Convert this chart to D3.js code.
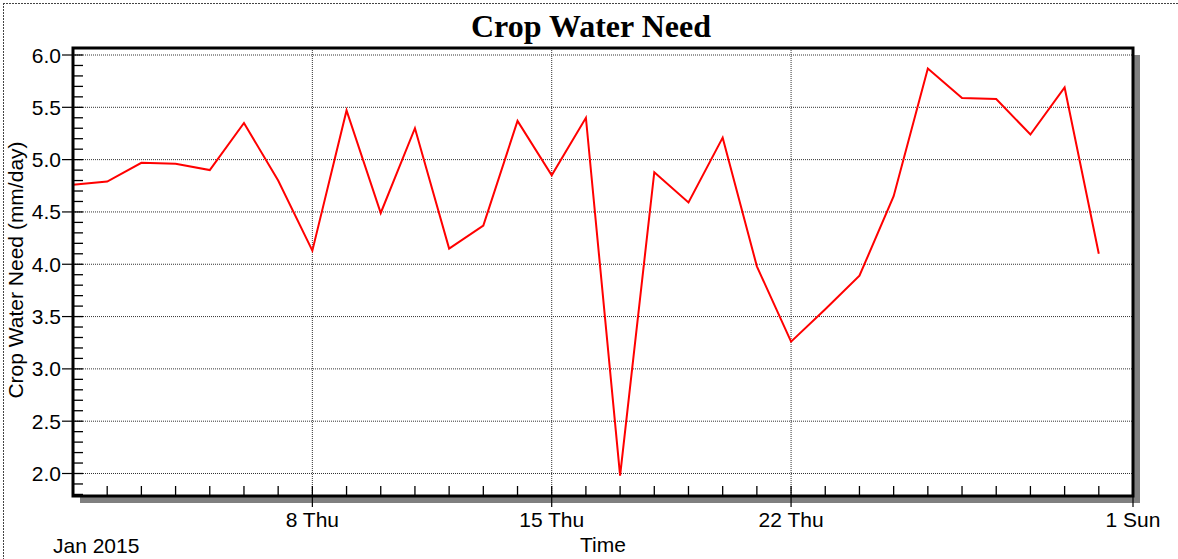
<!DOCTYPE html>
<html><head><meta charset="utf-8">
<script src="https://cdn.jsdelivr.net/npm/d3@7"></script>
<style>body{margin:0;background:#fff}svg{display:block}</style>
</head><body>
<svg id="c" width="1178" height="559"></svg>
<script>
const title = "Crop Water Need";
const yTitle = "Crop Water Need (mm/day)";
const xTitle = "Time";
const days = d3.range(1, 32).map(d => new Date(2015, 0, d));
const values = [4.76, 4.79, 4.97, 4.96, 4.90, 5.35, 4.80, 4.13, 5.47, 4.49,
  5.30, 4.15, 4.37, 5.37, 4.85, 5.40, 1.98, 4.88, 4.59, 5.21,
  3.98, 3.26, 3.57, 3.89, 4.65, 5.87, 5.59, 5.58, 5.24, 5.69, 4.10];
const yTicks = [2.0, 2.5, 3.0, 3.5, 4.0, 4.5, 5.0, 5.5, 6.0];
const xMajor = [new Date(2015,0,8), new Date(2015,0,15), new Date(2015,0,22), new Date(2015,1,1)];
const xMajorLabels = ["8 Thu", "15 Thu", "22 Thu", "1 Sun"];
const xCaption = "Jan 2015";

const FONT = "Liberation Sans, Arial, sans-serif";
const svg = d3.select("#c");
const L = 73, R = 1133, T = 48, B = 496;
const x = d3.scaleTime().domain([new Date(2015,0,1), new Date(2015,1,1)]).range([L, R]);
const y = d3.scaleLinear().domain([6.0, 2.0]).range([55, 473.5]);

// outer border (top & left visible)
svg.append("line").attr("x1",3).attr("x2",1178).attr("y1",3.5).attr("y2",3.5)
  .attr("stroke","#444").attr("stroke-dasharray","2,1");
svg.append("line").attr("x1",3.5).attr("x2",3.5).attr("y1",3).attr("y2",559)
  .attr("stroke","#444").attr("stroke-dasharray","2,1");

// shadow
svg.append("rect").attr("x", R).attr("y", T+7).attr("width", 7).attr("height", B - T).attr("fill", "#808080");
svg.append("rect").attr("x", L+7).attr("y", B).attr("width", R - L).attr("height", 7).attr("fill", "#808080");
svg.append("rect").attr("x", L).attr("y", T).attr("width", R-L).attr("height", B-T).attr("fill", "#fff");

// gridlines
svg.append("g").selectAll("line").data(yTicks).join("line")
  .attr("x1", L).attr("x2", R).attr("y1", d => y(d)).attr("y2", d => y(d))
  .attr("stroke", "#333").attr("stroke-width", 1).attr("stroke-dasharray", "1,1");
svg.append("g").selectAll("line").data(xMajor.slice(0,3)).join("line")
  .attr("y1", T).attr("y2", B).attr("x1", d => x(d)).attr("x2", d => x(d))
  .attr("stroke", "#333").attr("stroke-width", 1).attr("stroke-dasharray", "1,1");

// minor y ticks (inside)
const yMinor = d3.range(18, 61).map(v => v / 10);
svg.append("g").selectAll("line").data(yMinor).join("line")
  .attr("x1", L).attr("x2", L + 10).attr("y1", d => y(d)).attr("y2", d => y(d))
  .attr("stroke", "#000").attr("stroke-width", 1.3);
// major y ticks outside
svg.append("g").selectAll("line").data(yTicks).join("line")
  .attr("x1", L - 11).attr("x2", L).attr("y1", d => y(d)).attr("y2", d => y(d))
  .attr("stroke", "#000").attr("stroke-width", 1.2);
svg.append("g").selectAll("text").data(yTicks).join("text")
  .attr("x", 61).attr("y", d => y(d) + 7.5).attr("text-anchor", "end")
  .attr("font-family", FONT).attr("font-size", 21)
  .text(d => d.toFixed(1));

// minor x ticks (inside, pointing up)
const xMinor = d3.timeDay.range(new Date(2015,0,2), new Date(2015,1,1));
svg.append("g").selectAll("line").data(xMinor).join("line")
  .attr("x1", d => x(d)).attr("x2", d => x(d)).attr("y1", B).attr("y2", B - 10)
  .attr("stroke", "#000").attr("stroke-width", 1.3);
svg.append("g").selectAll("line").data(xMajor).join("line")
  .attr("x1", d => x(d)).attr("x2", d => x(d)).attr("y1", B).attr("y2", B + 11)
  .attr("stroke", "#000").attr("stroke-width", 1.2);
svg.append("g").selectAll("text").data(xMajor).join("text")
  .attr("x", d => x(d)).attr("y", 527).attr("text-anchor", "middle")
  .attr("font-family", FONT).attr("font-size", 21)
  .text((d, i) => xMajorLabels[i]);
svg.append("text").attr("x", 53).attr("y", 553)
  .attr("font-family", FONT).attr("font-size", 21).text(xCaption);
svg.append("text").attr("x", 603).attr("y", 552).attr("text-anchor", "middle")
  .attr("font-family", FONT).attr("font-size", 21).text(xTitle);
svg.append("text").attr("transform", "translate(23,270) rotate(-90)").attr("text-anchor", "middle")
  .attr("font-family", FONT).attr("font-size", 21).text(yTitle);

// title
svg.append("text").attr("x", 591).attr("y", 37).attr("text-anchor", "middle")
  .attr("font-family", "Liberation Serif, Times New Roman, serif").attr("font-weight", "bold")
  .attr("font-size", 32).text(title);

// line
const line = d3.line().x((d, i) => x(days[i])).y(d => y(d));
svg.append("path").datum(values).attr("d", line).attr("fill", "none")
  .attr("stroke", "#ff0000").attr("stroke-width", 2);

// frame
svg.append("rect").attr("x", L).attr("y", T).attr("width", R-L).attr("height", B-T)
  .attr("fill", "none").attr("stroke", "#000").attr("stroke-width", 3);
</script>
</body></html>
